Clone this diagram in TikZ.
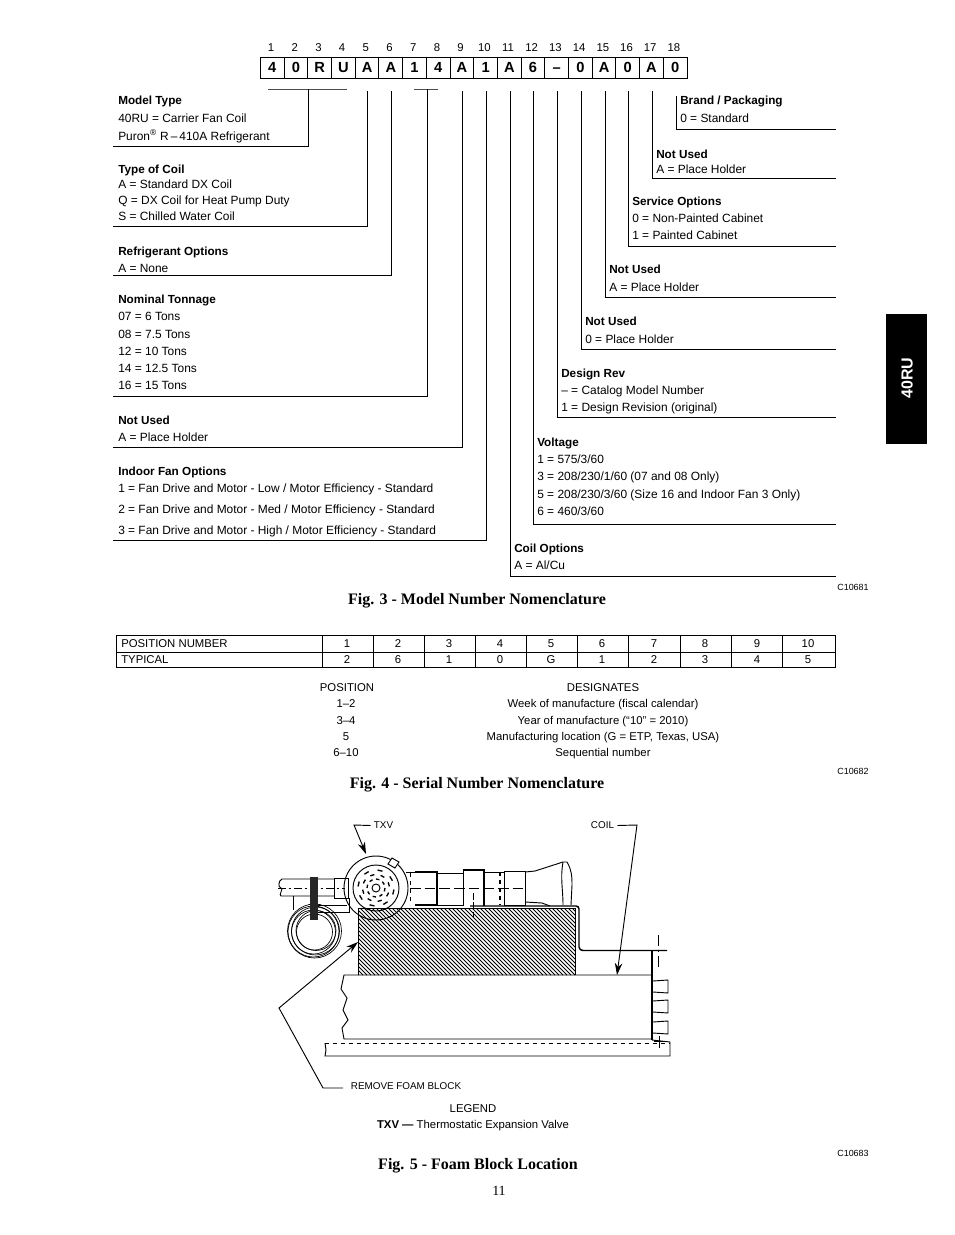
\documentclass[tikz,border=0pt]{standalone}
\usepackage{xcolor}
\usepackage{fontspec}
\setmainfont{Liberation Sans}
\newfontfamily\capfont{Liberation Serif}
\usetikzlibrary{arrows.meta}

\begin{document}
\begin{tikzpicture}[
x=0.75pt,y=-0.75pt,
>=Stealth,
every node/.style={font=\fontsize{8.5}{10}\selectfont,inner sep=0pt,text height=6.2pt,text depth=0pt},
head/.style={anchor=west,font=\fontsize{8.8}{10}\selectfont\bfseries},
item/.style={anchor=west,font=\fontsize{8.95}{10}\selectfont},
cell/.style={draw,line width=0.7pt,minimum width=23.7*0.75pt,minimum height=21*0.75pt,font=\fontsize{11}{12}\selectfont\bfseries,text height=8pt},
caption/.style={font=\capfont\fontsize{12}{14}\selectfont\bfseries,text height=8pt},
code/.style={font=\fontsize{6.7}{8}\selectfont,text height=4.8pt},
small/.style={font=\fontsize{7.4}{8}\selectfont,text height=5.2pt},
leader/.style={line width=0.6pt},
grid/.style={line width=0.5pt},
part/.style={line width=0.7pt},
leg/.style={->,line width=0.7pt,>={Stealth[length=12*0.75pt,width=7.5*0.75pt]}}
]
\useasboundingbox (0,0) rectangle (954,1235);

% Position numbers and boxes
\foreach \n/\c [evaluate=\n as \cx using 271+(\n-1)*23.7] in {1/4,2/0,3/R,4/U,5/A,6/A,7/1,8/4,9/A,10/1,11/A,12/6,13/{--},14/0,15/A,16/0,17/A,18/0}{
\node (num\n) at (\cx,47) {\n};
\node[cell] (box\n) at (\cx+1.3,67.5) {\c};
}

% Underscores
\coordinate (barA) at (268,89);
\coordinate (barB) at (347,89);
\coordinate (barC) at (414,89);
\coordinate (barD) at (438,89);
\draw[line width=0.4pt,black!70] (barA) -- (barB);
\draw[line width=0.4pt,black!70] (barC) -- (barD);

% Left leaders
\foreach \n/\x/\ytop/\y in {a/308/89/146,b/367/91/226,c/391/91/275,d/427/89/396,e/462/91/447,f/486/91/540}{
\coordinate (top\n) at (\x,\ytop);
\coordinate (end\n) at (113,\y);
\draw[leader] (top\n) |- (end\n);
}

% Right leaders
\foreach \n/\x/\ytop/\y in {g/510/91/576,h/533/91/524,i/557/91/417,j/581/91/349,k/605/91/297,l/628/91/246,m/652/91/178,n/676/96/129}{
\coordinate (top\n) at (\x,\ytop);
\coordinate (end\n) at (836,\y);
\draw[leader] (top\n) |- (end\n);
}

% Left texts
\node[head] (model) at (118,100) {Model Type};
\node[item] (model1) at (118,118) {40RU = Carrier Fan Coil};
\node[item] (model2) at (118,136) {Puron\textsuperscript{\textregistered} R\,--\,410A Refrigerant};
\node[head] (coil) at (118,169) {Type of Coil};
\node[item] (coil1) at (118,184) {A = Standard DX Coil};
\node[item] (coil2) at (118,200) {Q = DX Coil for Heat Pump Duty};
\node[item] (coil3) at (118,216) {S = Chilled Water Coil};
\node[head] (refr) at (118,251) {Refrigerant Options};
\node[item] (refr1) at (118,268) {A = None};
\node[head] (tons) at (118,299) {Nominal Tonnage};
\node[item] (tons1) at (118,316) {07 = 6 Tons};
\node[item] (tons2) at (118,334) {08 = 7.5 Tons};
\node[item] (tons3) at (118,351) {12 = 10 Tons};
\node[item] (tons4) at (118,368) {14 = 12.5 Tons};
\node[item] (tons5) at (118,385) {16 = 15 Tons};
\node[head] (nota) at (118,420) {Not Used};
\node[item] (nota1) at (118,437) {A = Place Holder};
\node[head] (fan) at (118,471) {Indoor Fan Options};
\node[item] (fan1) at (118,488) {1 = Fan Drive and Motor - Low / Motor Efficiency - Standard};
\node[item] (fan2) at (118,509) {2 = Fan Drive and Motor - Med / Motor Efficiency - Standard};
\node[item] (fan3) at (118,530) {3 = Fan Drive and Motor - High / Motor Efficiency - Standard};

% Right texts
\node[head] (brand) at (680,100) {Brand / Packaging};
\node[item] (brand1) at (680,118) {0 = Standard};
\node[head] (notb) at (656,154) {Not Used};
\node[item] (notb1) at (656,169) {A = Place Holder};
\node[head] (serv) at (632,201) {Service Options};
\node[item] (serv1) at (632,218) {0 = Non-Painted Cabinet};
\node[item] (serv2) at (632,235) {1 = Painted Cabinet};
\node[head] (notc) at (609,269) {Not Used};
\node[item] (notc1) at (609,287) {A = Place Holder};
\node[head] (notd) at (585,321) {Not Used};
\node[item] (notd1) at (585,339) {0 = Place Holder};
\node[head] (rev) at (561,373) {Design Rev};
\node[item] (rev1) at (561,390) {-- = Catalog Model Number};
\node[item] (rev2) at (561,407) {1 = Design Revision (original)};
\node[head] (volt) at (537,442) {Voltage};
\node[item] (volt1) at (537,459) {1 = 575/3/60};
\node[item] (volt2) at (537,476) {3 = 208/230/1/60 (07 and 08 Only)};
\node[item] (volt3) at (537,494) {5 = 208/230/3/60 (Size 16 and Indoor Fan 3 Only)};
\node[item] (volt4) at (537,511) {6 = 460/3/60};
\node[head] (copt) at (514,548) {Coil Options};
\node[item] (copt1) at (514,565) {A = Al/Cu};

% Side tab
\node[fill=black,minimum width=41*0.75pt,minimum height=130*0.75pt] (tab) at (906.5,379) {};
\node[text=white,rotate=90,font=\fontsize{12}{14}\selectfont\bfseries,text height=8.6pt] (tabtext) at (907,378) {40RU};

% Captions
\node[code] (c1) at (853,587) {C10681};
\node[caption] (fig3) at (477,599) {Fig. 3 - Model Number Nomenclature};
\node[code] (c2) at (853,771) {C10682};
\node[caption] (fig4) at (477,783) {Fig. 4 - Serial Number Nomenclature};
\node[code] (c3) at (853,1153) {C10683};
\node[caption] (fig5) at (478,1164) {Fig. 5 - Foam Block Location};
\node[font=\capfont\fontsize{10.5}{12}\selectfont,text height=7pt] (page) at (499,1191) {11};

% Serial table
\draw[grid] (116,635) rectangle (835,667);
\draw[grid] (116,652) -- (835,652);
\foreach \x in {322,373,424,475,526,577,628,680,731,782}{
\draw[grid] (\x,635) -- (\x,667);
}
\node[anchor=west] (posno) at (121,643) {POSITION NUMBER};
\node[anchor=west] (typ) at (121,659) {TYPICAL};
\foreach \n/\x/\v in {1/347/2,2/398/6,3/449/1,4/500/0,5/551/G,6/602/1,7/654/2,8/705/3,9/757/4,10/808/5}{
\node (hd\n) at (\x,643) {\n};
\node (val\n) at (\x,659) {\v};
}

% Serial list
\node (pos) at (347,687) {POSITION};
\node (des) at (603,687) {DESIGNATES};
\node (pos1) at (346,703) {1--2};
\node (des1) at (603,703) {Week of manufacture (fiscal calendar)};
\node (pos2) at (346,720) {3--4};
\node (des2) at (603,720) {Year of manufacture (“10” = 2010)};
\node (pos3) at (346,736) {5};
\node (des3) at (603,736) {Manufacturing location (G = ETP, Texas, USA)};
\node (pos4) at (346,752) {6--10};
\node (des4) at (603,752) {Sequential number};

% Foam block
\begin{scope}
\clip (358,908) rectangle (575,975);
\foreach \i in {0,4,...,300}{
\draw[line width=0.7pt] (284+\i,908) -- (351+\i,975);
}
\end{scope}
\draw[part] (358,975) -- (358,908) -- (575,908) -- (575,975);

% Coil
\draw[part] (652,975) -- (344,975) -- (341,989) -- (347,998) -- (343,1010) -- (348,1020) -- (342,1028) -- (344,1039) -- (652,1039);
\draw[line width=1.2pt] (652,950) -- (652,1040);
\foreach \y in {980,1000,1021}{
\draw[part] (653,\y+1) -- (668,\y) -- (668,\y+13) -- (653,\y+12);
}

% Base rail
\draw[part,dashed] (325,1043) -- (670,1043);
\draw[part] (652,1040) -- (670,1042) -- (670,1056) -- (325,1056) -- (326,1050) -- (325,1043);
\draw[part] (659,1036) -- (659,1048) (654,1041) -- (664,1041);

% Bent sheet
\draw[line width=1.1pt] (470,906) -- (576,906) to[out=0,in=90] (579,909) -- (579,947) to[out=-90,in=180] (583,950.5) -- (667,950.5);
\draw[part,dash pattern=on 8pt off 3pt on 2pt off 3pt] (658,935) -- (658,967);

% Valve
\draw[part] (376,888) circle[radius=32];
\draw[part] (376,888) circle[radius=23];
\draw[part] (376,888) circle[radius=4];
\foreach \a in {0,45,...,315}{
\draw[line width=1pt] (376,888)+(\a:9) arc[start angle=\a,delta angle=22,radius=9];
\draw[line width=1pt] (376,888)+(\a+20:13.5) arc[start angle=\a+20,delta angle=18,radius=13.5];
\draw[line width=1pt] (376,888)+(\a+5:18) arc[start angle=\a+5,delta angle=16,radius=18];
}
\draw[part,fill=white] (388,864) -- (392,858) -- (399,862) -- (395,868) -- cycle;

% Left pipe and clamp
\draw[part] (334,879) -- (282,879) to[out=200,in=170] (281,888) to[out=-10,in=160] (281,896) -- (334,896);
\draw[part] (334,878) rectangle (348,898);
\draw[part,dash pattern=on 6pt off 2pt on 2pt off 2pt] (278,888) -- (345,888);
\draw[part] (293,896) -- (293,910);
\draw[part] (315,905) -- (347,905) (315,912) -- (349,912) -- (349,898);
\foreach \r/\dx/\dy in {27/0/0,25.5/-1/0.5,24/1/0,22/-1/1,20/1.5/-0.5,18/0/1}{
\draw[line width=0.5pt] (314.5+\dx,931+\dy) circle[radius=\r];
}
\fill[black!85] (310,877) rectangle (318,920);

% Right pipe
\draw[line width=1.1pt] (415,872) -- (437,872) -- (437,905) -- (415,905);
\draw[part] (406,872) -- (415,872);
\draw[part,dashed] (410,873) -- (410,905);
\draw[part] (437,873) -- (463,873) (437,905) -- (463,905);
\draw[line width=1pt] (463,870) -- (484,870) -- (484,906);
\draw[part] (463,870) -- (463,906);
\draw[part] (484,872) -- (504,872);
\draw[part] (504,871) -- (525,871) -- (525,905) -- (504,905) -- cycle;
\draw[line width=1pt,dashed] (500,872) -- (500,905);
\draw[part] (525,872) -- (535,871) -- (563,862) -- (567,862);
\draw[part] (525,902) -- (542,903) -- (550,906);
\draw[part] (563,862) to[out=-100,in=90] (563,905);
\draw[part] (567,862) to[out=-60,in=90] (572,885) -- (571,905);
\draw[part,dash pattern=on 8pt off 3pt] (410,888) -- (526,888);
\draw[part,dash pattern=on 5pt off 2pt] (473,893) -- (473,920);

% Callouts
\node[small] (txv) at (383.5,825.5) {TXV};
\node[small] (coilb) at (602.5,825.5) {COIL};
\node[small] (foam) at (406,1086) {REMOVE FOAM BLOCK};
\coordinate (txvA) at (354,825);
\coordinate (txvB) at (366,854);
\coordinate (coilA) at (637,825);
\coordinate (coilB) at (617,975);
\coordinate (foamA) at (343,1088);
\coordinate (foamB) at (323,1088);
\coordinate (foamC) at (279,1008);
\coordinate (foamD) at (358,942);
\draw[leg] (txv.west) ++(-3,0) -- (txvA) -- (txvB);
\draw[leg] (coilb.east) ++(3,0) -- (coilA) -- (coilB);
\draw[leg] (foamA) -- (foamB) -- (foamC) -- (foamD);

% Legend
\node (legend) at (473,1108) {LEGEND};
\node (legtxv) at (473,1124) {\textbf{TXV ---} Thermostatic Expansion Valve};

\end{tikzpicture}
\end{document}
